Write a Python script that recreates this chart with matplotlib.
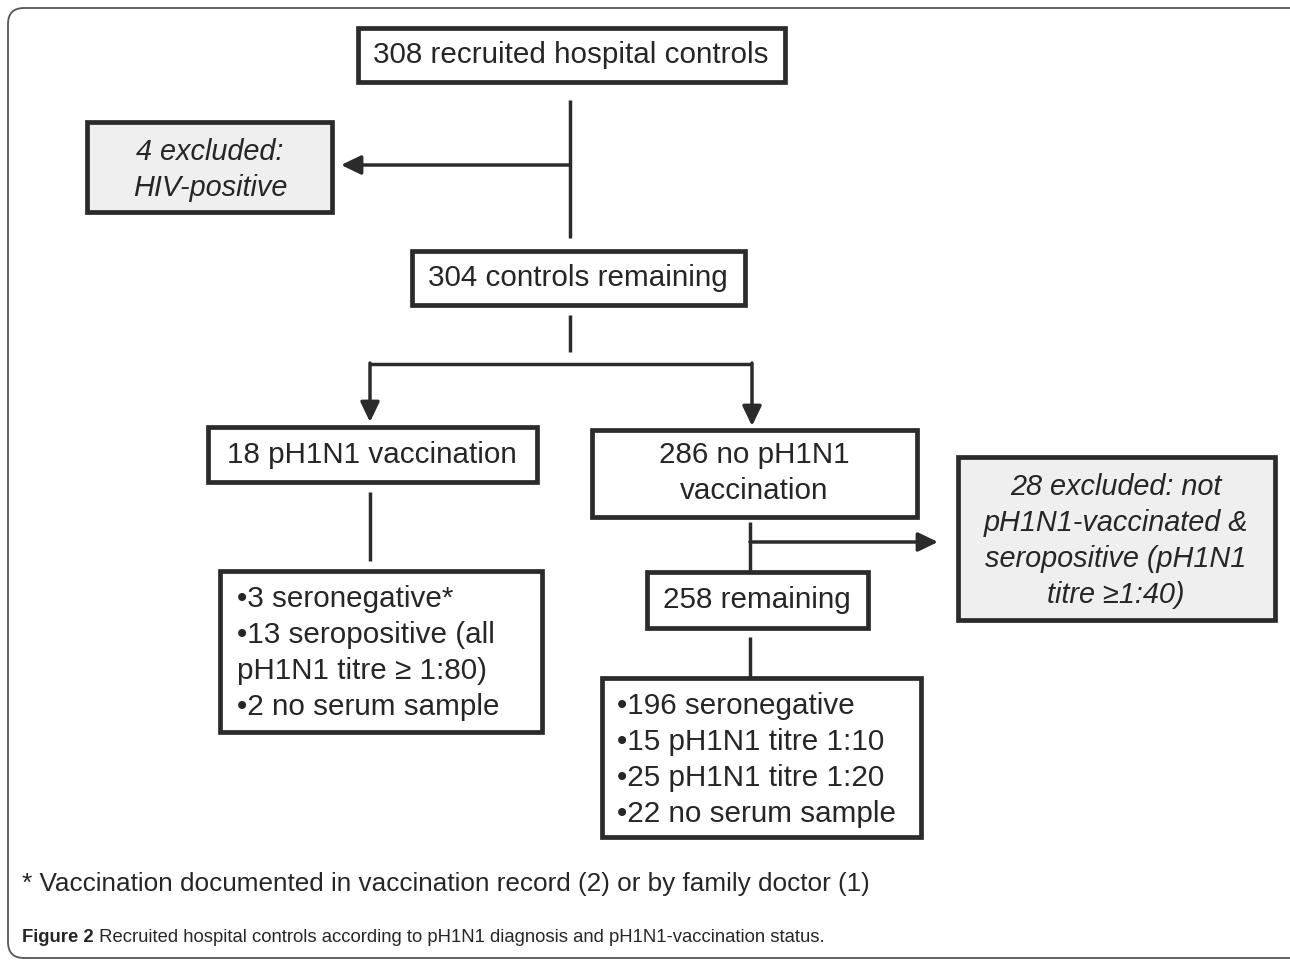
import matplotlib
matplotlib.use('Agg')
import matplotlib.pyplot as plt
from matplotlib.patches import Rectangle, FancyBboxPatch

# ── Box texts ──────────────────────────────────────────────────────────────
recruited   = '308 recruited hospital controls'
hiv_excl    = '4 excluded:\nHIV-positive'
remaining   = '304 controls remaining'
vaccinated  = '18 pH1N1 vaccination'
not_vacc    = '286 no pH1N1\nvaccination'
vacc_list   = ['•3 seronegative*', '•13 seropositive (all', 'pH1N1 titre ≥ 1:80)',
               '•2 no serum sample']
remaining2  = '258 remaining'
novacc_list = ['•196 seronegative', '•15 pH1N1 titre 1:10', '•25 pH1N1 titre 1:20',
               '•22 no serum sample']
sero_excl   = '28 excluded: not\npH1N1-vaccinated &\nseropositive (pH1N1\ntitre ≥1:40)'
footnote    = '* Vaccination documented in vaccination record (2) or by family doctor (1)'
cap_bold    = 'Figure 2'
cap_text    = ' Recruited hospital controls according to pH1N1 diagnosis and pH1N1-vaccination status.'

# ── Layout (pixel coords, y downwards) ─────────────────────────────────────
W, H = 1290, 964
INK = '#2b2b2b'
TXT = '#262626'
GRAY = '#efefef'
FS = 21.3      # upright box text
FS_I = 20.8    # italic exclusion text
LS = 1.35

fig = plt.figure(figsize=(W / 100, H / 100), dpi=100)
ax = fig.add_axes([0, 0, 1, 1])
ax.set_xlim(0, W)
ax.set_ylim(H, 0)
ax.axis('off')

# outer rounded frame (right side runs off the image)
ax.add_patch(FancyBboxPatch((8, 8), 1310, 950, boxstyle='round,pad=0,rounding_size=16',
                            fc='white', ec='#555555', lw=1.3, zorder=0))


def box(x0, y0, x1, y1, fill='white'):
    ax.add_patch(Rectangle((x0, y0), x1 - x0, y1 - y0, fc=fill, ec=INK, lw=3.4, zorder=2))


def line(xs, ys):
    ax.plot(xs, ys, color=INK, lw=2.5, solid_capstyle='butt', zorder=1)


def arrow(x0, y0, x1, y1):
    ax.annotate('', xy=(x1, y1), xytext=(x0, y0),
                arrowprops=dict(arrowstyle='-|>,head_length=0.75,head_width=0.36',
                                color=INK, lw=2.5, shrinkA=0, shrinkB=0,
                                mutation_scale=16), zorder=1)


def label(x, y, s, italic=False, ha='center'):
    ax.text(x, y, s, ha=ha, va='center', fontsize=FS_I if italic else FS, color=TXT,
            family='Liberation Sans', style='italic' if italic else 'normal',
            linespacing=LS, zorder=3)


# top box
box(358, 28, 785, 82)
label(571, 55, recruited)
line([570, 570], [100, 238])
arrow(570, 165, 341, 165)

# HIV exclusion
box(87, 122, 332, 212, GRAY)
label(210, 170, hiv_excl, italic=True)

# 304 remaining
box(412, 251, 745, 305)
label(578, 278, remaining)
line([570, 570], [315, 352])
line([370, 752], [364, 364])
arrow(370, 363, 370, 422)
arrow(752, 363, 752, 426)

# vaccinated branch
box(208, 427, 537, 482)
label(372, 455, vaccinated)
line([370, 370], [492, 561])
box(220, 571, 542, 732)
label(237, 653, '\n'.join(vacc_list), ha='left')

# not vaccinated branch
box(592, 430, 917, 517)
label(754, 473, not_vacc)
line([750, 750], [522, 572])
arrow(750, 542, 938, 542)
box(958, 457, 1275, 620, GRAY)
label(1116, 541, sero_excl, italic=True)

box(647, 572, 868, 628)
label(757, 600, remaining2)
line([750, 750], [637, 677])
box(602, 678, 921, 837)
label(617, 760, '\n'.join(novacc_list), ha='left')

# footnote and caption
ax.text(22, 884, footnote, ha='left', va='center', fontsize=18.8, color=TXT,
        family='Liberation Sans')
cap = ax.text(22, 937, cap_bold, ha='left', va='center', fontsize=13.3, color=TXT,
              family='Liberation Sans', weight='bold')
ax.annotate(cap_text, xycoords=cap, xy=(1, 0.5), va='center', ha='left',
            fontsize=13.3, color=TXT, family='Liberation Sans')

fig.savefig('out.png', dpi=100, facecolor='white')
